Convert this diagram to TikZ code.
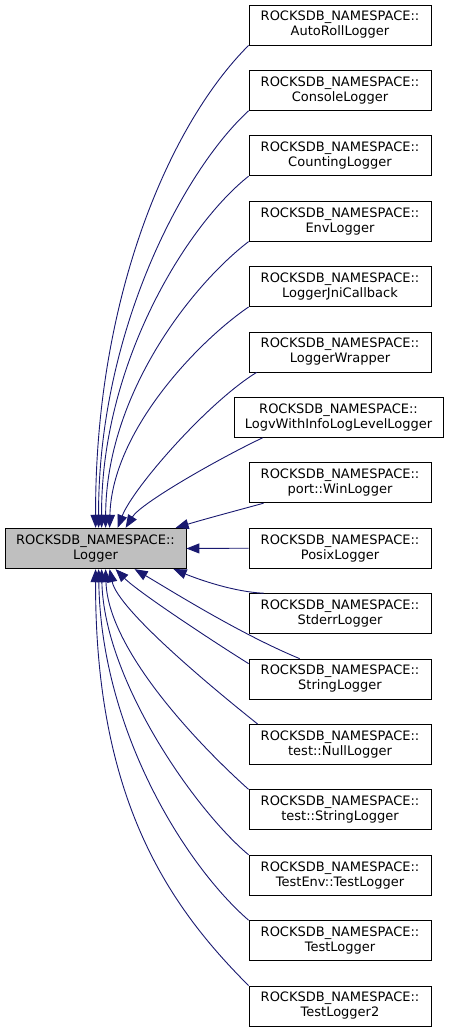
\documentclass[tikz,border=0pt]{standalone}
\usepackage{fontspec}
\setmainfont{DejaVu Sans}
\usetikzlibrary{arrows.meta}
\definecolor{edgecol}{HTML}{191970}
\definecolor{basefill}{HTML}{BFBFBF}
\begin{document}
\begin{tikzpicture}[x=1pt,y=-1pt,
  cls/.style={draw=black, fill=white, minimum width=182pt, minimum height=40pt,
    align=center, inner sep=0pt, line width=0.8pt,
    font=\fontsize{13}{15}\selectfont},
  base/.style={cls, fill=basefill, minimum width=181pt, minimum height=40.5pt},
  inh/.style={draw=edgecol, line width=0.9pt, {Triangle[length=13pt,width=10pt]}-}]
\useasboundingbox (0,0) rectangle (451,1032);

\node[base] (logger) at (95.5,548.5) {ROCKSDB\_NAMESPACE::\\Logger};

\node[cls] (c0) at (340,25) {ROCKSDB\_NAMESPACE::\\AutoRollLogger};
\node[cls] (c1) at (340,90.4) {ROCKSDB\_NAMESPACE::\\ConsoleLogger};
\node[cls] (c2) at (340,155.8) {ROCKSDB\_NAMESPACE::\\CountingLogger};
\node[cls] (c3) at (340,221.2) {ROCKSDB\_NAMESPACE::\\EnvLogger};
\node[cls] (c4) at (340,286.6) {ROCKSDB\_NAMESPACE::\\LoggerJniCallback};
\node[cls] (c5) at (340,352) {ROCKSDB\_NAMESPACE::\\LoggerWrapper};
\node[cls, minimum width=209pt] (c6) at (338.5,417.4) {ROCKSDB\_NAMESPACE::\\LogvWithInfoLogLevelLogger};
\node[cls] (c7) at (340,482.8) {ROCKSDB\_NAMESPACE::\\port::WinLogger};
\node[cls] (c8) at (340,548.2) {ROCKSDB\_NAMESPACE::\\PosixLogger};
\node[cls] (c9) at (340,613.6) {ROCKSDB\_NAMESPACE::\\StderrLogger};
\node[cls] (c10) at (340,679) {ROCKSDB\_NAMESPACE::\\StringLogger};
\node[cls] (c11) at (340,744.4) {ROCKSDB\_NAMESPACE::\\test::NullLogger};
\node[cls] (c12) at (340,809.8) {ROCKSDB\_NAMESPACE::\\test::StringLogger};
\node[cls] (c13) at (340,875.2) {ROCKSDB\_NAMESPACE::\\TestEnv::TestLogger};
\node[cls] (c14) at (340,940.6) {ROCKSDB\_NAMESPACE::\\TestLogger};
\node[cls] (c15) at (340,1006) {ROCKSDB\_NAMESPACE::\\TestLogger2};

% upper fan
\draw[inh] ([xshift=91pt]logger.north west) .. controls (95,298) and (169,125) .. (c0.south west);
\draw[inh] ([xshift=94pt]logger.north west) .. controls (98,332) and (183,171) .. (c1.south west);
\draw[inh] ([xshift=97pt]logger.north west) .. controls (101,363) and (187,225) .. (c2.south west);
\draw[inh] ([xshift=101pt]logger.north west) .. controls (106,394) and (192,285) .. (c3.south west);
\draw[inh] ([xshift=105pt]logger.north west) .. controls (112,430) and (200,340) .. (c4.south west);
\draw[inh] ([xshift=113pt]logger.north west) .. controls (133,488) and (207,403) .. ([xshift=8pt]c5.south west);
\draw[inh] ([xshift=121pt]logger.north west) .. controls (141,503) and (218,459) .. ([xshift=29pt]c6.south west);
\draw[inh] ([xshift=171pt]logger.north west) .. controls (205,519) and (235,511) .. ([xshift=15pt]c7.south west);
% middle
\draw[inh] (logger.east) -- (c8.west);
% lower fan
\draw[inh] ([xshift=169pt]logger.south west) .. controls (200,580) and (235,592) .. ([xshift=15pt]c9.north west);
\draw[inh] ([xshift=130pt]logger.south west) .. controls (170,590) and (240,634) .. ([xshift=51pt]c10.north west);
\draw[inh] ([xshift=111pt]logger.south west) .. controls (138,592) and (214,642) .. ([yshift=-5pt]c10.north west);
\draw[inh] ([xshift=105pt]logger.south west) .. controls (118,610) and (215,690) .. ([xshift=9pt]c11.north west);
\draw[inh] ([xshift=101pt]logger.south west) .. controls (108,650) and (199,745) .. (c12.north west);
\draw[inh] ([xshift=97pt]logger.south west) .. controls (104,680) and (195,810) .. (c13.north west);
\draw[inh] ([xshift=94pt]logger.south west) .. controls (101,730) and (185,865) .. (c14.north west);
\draw[inh] ([xshift=91pt]logger.south west) .. controls (95,800) and (169,906) .. (c15.north west);
\end{tikzpicture}
\end{document}
